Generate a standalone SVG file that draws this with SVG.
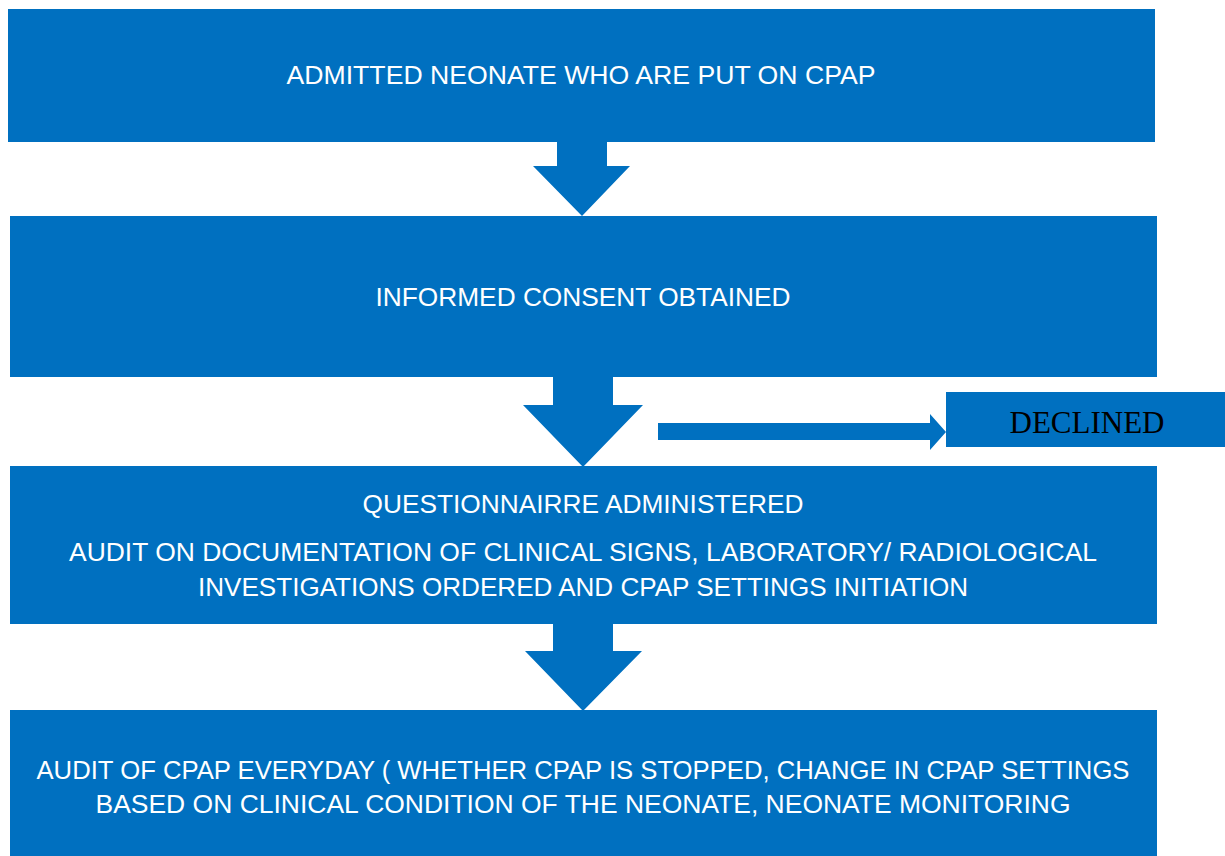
<svg xmlns="http://www.w3.org/2000/svg" width="1225" height="856" viewBox="0 0 1225 856">
  <style>
    .box { fill: #0070C0; }
    .arrow { fill: #0070C0; }
    .lbl { font-family: "Liberation Sans", Arial, sans-serif; font-size: 25px; fill: #FFFFFF; text-anchor: middle; }
    .dec { font-family: "Liberation Serif", "Times New Roman", serif; font-size: 31px; fill: #000000; text-anchor: middle; }
  </style>
  <rect width="1225" height="856" fill="#FFFFFF"/>

  <g id="connectors">
    <polygon class="arrow" points="557,142 607,142 607,166 630,166 582,216 533,166 557,166"/>
    <polygon class="arrow" points="553,377 613,377 613,405 643,405 583,467 523,405 553,405"/>
    <polygon class="arrow" points="553,624 613,624 613,651 642,651 583,711 525,651 553,651"/>
    <polygon class="arrow" points="658,423 930,423 930,414 946,432 930,450 930,440 658,440"/>
  </g>

  <g id="node-admitted">
    <rect class="box" x="8" y="9" width="1147" height="133"/>
    <text class="lbl" x="581" y="84" textLength="589" lengthAdjust="spacingAndGlyphs">ADMITTED NEONATE WHO ARE PUT ON CPAP</text>
  </g>

  <g id="node-consent">
    <rect class="box" x="10" y="216" width="1147" height="161"/>
    <text class="lbl" x="583" y="306" textLength="415" lengthAdjust="spacingAndGlyphs">INFORMED CONSENT OBTAINED</text>
  </g>

  <g id="node-declined">
    <rect class="box" x="946" y="392" width="279" height="55"/>
    <text class="dec" x="1087" y="433">DECLINED</text>
  </g>

  <g id="node-questionnaire">
    <rect class="box" x="10" y="466" width="1147" height="158"/>
    <text class="lbl" x="583" y="513" textLength="441" lengthAdjust="spacingAndGlyphs">QUESTIONNAIRRE ADMINISTERED</text>
    <text class="lbl" x="583" y="561" textLength="1028" lengthAdjust="spacingAndGlyphs">AUDIT ON DOCUMENTATION OF CLINICAL SIGNS, LABORATORY/ RADIOLOGICAL</text>
    <text class="lbl" x="583" y="596" textLength="770" lengthAdjust="spacingAndGlyphs">INVESTIGATIONS ORDERED AND CPAP SETTINGS INITIATION</text>
  </g>

  <g id="node-audit">
    <rect class="box" x="10" y="710" width="1147" height="146"/>
    <text class="lbl" x="583" y="779" textLength="1093" lengthAdjust="spacingAndGlyphs">AUDIT OF CPAP EVERYDAY ( WHETHER CPAP IS STOPPED, CHANGE IN CPAP SETTINGS</text>
    <text class="lbl" x="583" y="813" textLength="975" lengthAdjust="spacingAndGlyphs">BASED ON CLINICAL CONDITION OF THE NEONATE, NEONATE MONITORING</text>
  </g>
</svg>
